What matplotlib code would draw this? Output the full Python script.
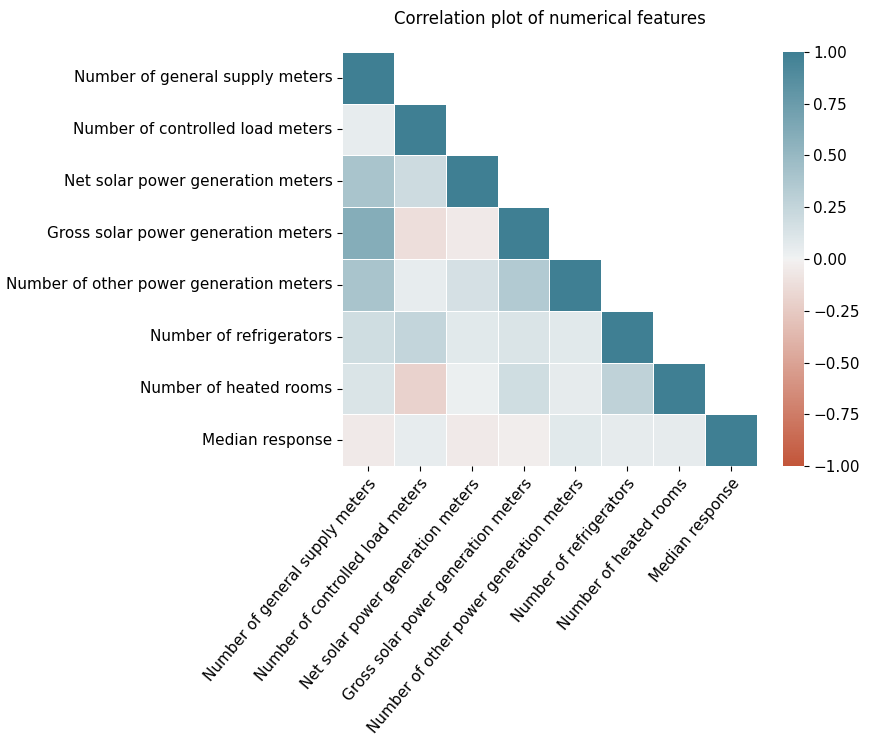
import numpy as np
import pandas as pd
import seaborn as sns
import matplotlib
matplotlib.use("Agg")
import matplotlib.pyplot as plt

plt.rcParams['font.size'] = 11

features = ["Number of general supply meters", "Number of controlled load meters",
            "Net solar power generation meters", "Gross solar power generation meters",
            "Number of other power generation meters", "Number of refrigerators",
            "Number of heated rooms", "Median response"]

# lower triangle of correlation matrix, row by row
lower = [
    [],
    [0.05],
    [0.40, 0.20],
    [0.60, -0.12, -0.05],
    [0.40, 0.05, 0.15, 0.35],
    [0.18, 0.25, 0.08, 0.12, 0.08],
    [0.12, -0.20, 0.03, 0.18, 0.06, 0.28],
    [-0.05, 0.05, -0.05, -0.03, 0.08, 0.06, 0.06],
]

n = len(features)
corr = np.eye(n)
for i, row in enumerate(lower):
    for j, v in enumerate(row):
        corr[i, j] = v
        corr[j, i] = v
corr = pd.DataFrame(corr, index=features, columns=features)

mask = np.triu(np.ones((n, n), dtype=bool), k=1)
cmap = sns.diverging_palette(20, 220, as_cmap=True)

fig, ax = plt.subplots(figsize=(8.79, 7.40), dpi=100)
sns.heatmap(corr, mask=mask, cmap=cmap, vmin=-1, vmax=1, center=0,
            square=True, linewidths=0.5, linecolor="white", ax=ax,
            cbar_kws={"pad": 0.05})
ax.set_title("Correlation plot of numerical features", pad=20, fontsize=12)
plt.setp(ax.get_xticklabels(), rotation=50, ha="right", rotation_mode="anchor")
plt.subplots_adjust(left=0.384, right=0.98, top=0.93, bottom=0.37)
fig.savefig("out.png")
